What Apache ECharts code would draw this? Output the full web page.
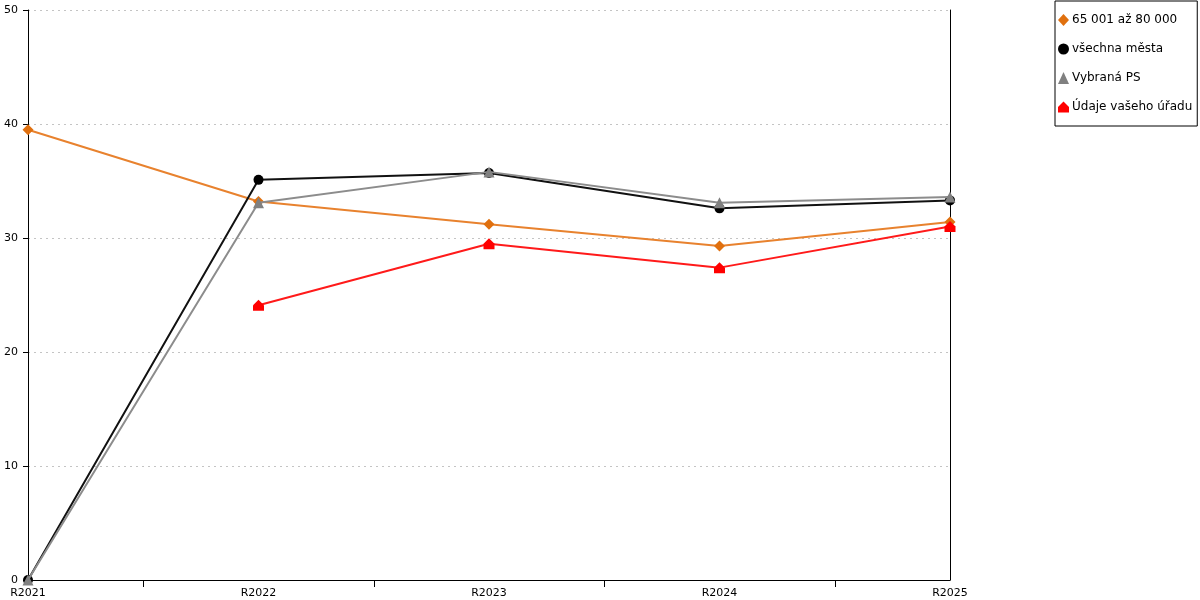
<!DOCTYPE html>
<html>
<head>
<meta charset="utf-8">
<script src="https://cdn.jsdelivr.net/npm/echarts@6/dist/echarts.min.js"></script>
<style>
html, body { margin: 0; padding: 0; background: #fff; }
#chart { width: 1200px; height: 600px; }
</style>
</head>
<body>
<div id="chart"></div>
<script>
// kategorie a hodnoty
var categories = ['R2021', 'R2022', 'R2023', 'R2024', 'R2025'];
var skupina = [39.5, 33.2, 31.2, 29.3, 31.4];      // 65 001 až 80 000
var vsechnaMesta = [0, 35.1, 35.7, 32.6, 33.3];    // všechna města
var vybranaPS = [0, 33.1, 35.8, 33.1, 33.6];       // Vybraná PS
var vasUrad = [null, 24.1, 29.5, 27.4, 31.0];      // Údaje vašeho úřadu
var yTicks = [0, 10, 20, 30, 40, 50];

var houseIcon = 'path://M5,0 L10,5 L10,10 L0,10 L0,5 Z';

function pairs(arr) {
    var out = [];
    for (var i = 0; i < arr.length; i++) {
        out.push([i, arr[i]]);
    }
    return out;
}

var myChart = echarts.init(document.getElementById('chart'));

var option = {
    animation: false,
    textStyle: { fontFamily: 'DejaVu Sans', color: '#000' },
    grid: { left: 28, right: 250, top: 10, bottom: 20, containLabel: false },
    legend: {
        orient: 'vertical',
        left: 1055,
        top: 1,
        padding: [13, 5, 13, 3],
        itemGap: 17,
        itemWidth: 11,
        itemHeight: 12,
        itemStyle: { borderWidth: 0 },
        borderColor: '#000',
        borderWidth: 1,
        textStyle: { fontSize: 12, color: '#000', fontFamily: 'DejaVu Sans', padding: [0, 0, 0, -2] },
        data: [
            { name: '65 001 až 80 000', icon: 'diamond' },
            { name: 'všechna města', icon: 'circle' },
            { name: 'Vybraná PS', icon: 'triangle' },
            { name: 'Údaje vašeho úřadu', icon: houseIcon }
        ]
    },
    xAxis: {
        type: 'value',
        min: 0,
        max: categories.length - 1,
        interval: 1,
        axisLine: { lineStyle: { color: '#000', width: 1 } },
        axisTick: { show: false },
        minorTick: { show: true, splitNumber: 2, length: 7, lineStyle: { color: '#000' } },
        splitLine: { show: false },
        minorSplitLine: { show: false },
        axisLabel: {
            color: '#000',
            fontSize: 11,
            margin: 8,
            fontFamily: 'DejaVu Sans',
            formatter: function (v) { return categories[v] || ''; }
        }
    },
    yAxis: [{
        type: 'value',
        min: yTicks[0],
        max: yTicks[yTicks.length - 1],
        interval: 10,
        axisLine: { show: true, lineStyle: { color: '#000' } },
        axisTick: { show: true, inside: false, length: 5, lineStyle: { color: '#000', width: 1 } },
        axisLabel: { color: '#000', fontSize: 11, margin: 10, fontFamily: 'DejaVu Sans' },
        splitLine: { show: true, lineStyle: { color: '#c4c4c4', type: [2, 4] } }
    }, {
        type: 'value',
        position: 'right',
        min: 0,
        max: 50,
        axisLine: { show: true, lineStyle: { color: '#000' } },
        axisTick: { show: false },
        axisLabel: { show: false },
        splitLine: { show: false }
    }],
    series: [
        {
            name: '65 001 až 80 000',
            type: 'line',
            data: pairs(skupina),
            symbol: 'diamond',
            symbolSize: 11,
            itemStyle: { color: '#e0700f' },
            lineStyle: { color: '#e8822e', width: 2 },
            z: 2
        },
        {
            name: 'všechna města',
            type: 'line',
            data: pairs(vsechnaMesta),
            symbol: 'circle',
            symbolSize: 10,
            itemStyle: { color: '#000' },
            lineStyle: { color: '#111', width: 2 },
            z: 3
        },
        {
            name: 'Vybraná PS',
            type: 'line',
            data: pairs(vybranaPS),
            symbol: 'triangle',
            symbolSize: 11,
            itemStyle: { color: '#808080' },
            lineStyle: { color: '#8c8c8c', width: 2 },
            z: 4
        },
        {
            name: 'Údaje vašeho úřadu',
            type: 'line',
            data: pairs(vasUrad),
            symbol: houseIcon,
            symbolSize: 11,
            itemStyle: { color: '#ff0000' },
            lineStyle: { color: '#ff1a1a', width: 2 },
            z: 5
        }
    ]
};

myChart.setOption(option, true);
</script>
</body>
</html>
